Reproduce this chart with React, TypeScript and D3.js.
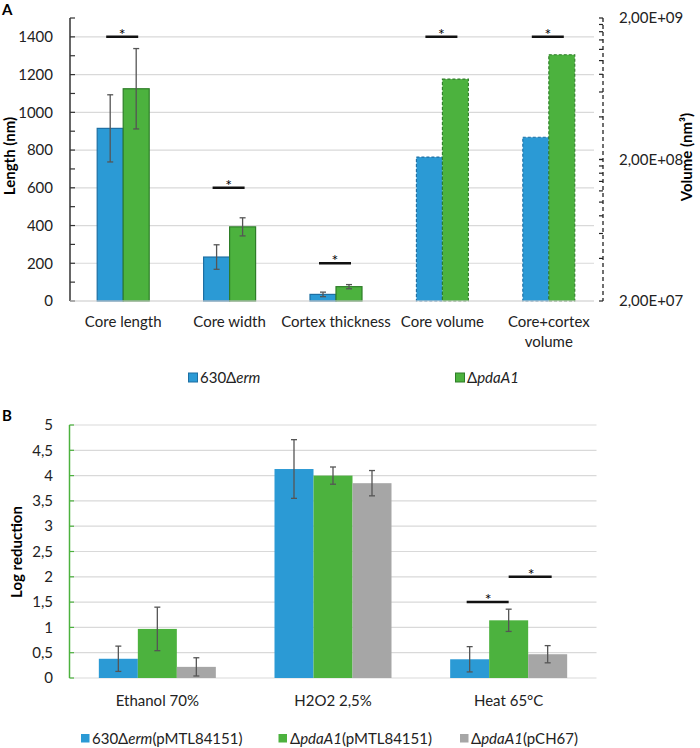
import React from "react";
import * as d3 from "d3";

// ---------- Panel A data ----------
const categoriesA = ["Core length", "Core width", "Cortex thickness", "Core volume", "Core+cortex volume"];
const labelLinesA = [["Core length"], ["Core width"], ["Cortex thickness"], ["Core volume"], ["Core+cortex", "volume"]];
const lengthBlue = [915, 233, 35];
const lengthBlueErr = [178, 65, 12];
const lengthGreen = [1125, 393, 76];
const lengthGreenErr = [213, 48, 11];
const volumeBlue = [2.08e8, 2.87e8];
const volumeGreen = [7.4e8, 1.1e9];
const sigA = [1400, 600, 200, 1400, 1400];
const lengthTicks = [0, 200, 400, 600, 800, 1000, 1200, 1400];
const volumeTicks = [2e7, 2e8, 2e9];
const volumeTickLabels = ["2,00E+07", "2,00E+08", "2,00E+09"];

// ---------- Panel B data ----------
const categoriesB = ["Ethanol 70%", "H2O2 2,5%", "Heat 65°C"];
const logBlue = [0.38, 4.13, 0.37];
const logBlueErr = [0.25, 0.58, 0.25];
const logGreen = [0.97, 4.0, 1.14];
const logGreenErr = [0.43, 0.17, 0.22];
const logGray = [0.22, 3.85, 0.47];
const logGrayErr = [0.18, 0.25, 0.17];
const logTicks = [0, 0.5, 1, 1.5, 2, 2.5, 3, 3.5, 4, 4.5, 5];

const BLUE = "#2b9ad5";
const BLUE_S = "#1d6fa3";
const GREEN = "#4cb23e";
const GREEN_S = "#2e7d28";
const GRAY = "#a6a6a6";
const GRID = "#d9d9d9";
const ERR = "#555555";
const FONT = "Lato, 'Open Sans', sans-serif";
const FS = 15;

function ErrBar({ x, y1, y2, cap = 3 }: { x: number; y1: number; y2: number; cap?: number }) {
  return (
    <g stroke={ERR} strokeWidth={1.3}>
      <line x1={x} x2={x} y1={y1} y2={y2} />
      <line x1={x - cap} x2={x + cap} y1={y1} y2={y1} />
      <line x1={x - cap} x2={x + cap} y1={y2} y2={y2} />
    </g>
  );
}

function fmt(v: number) {
  return String(v).replace(".", ",");
}

export default function App() {
  const xA = d3.scaleBand<string>().domain(categoriesA).range([70, 602]);
  const yLen = d3.scaleLinear().domain([0, 1500]).range([301, 18]);
  const yVol = d3.scaleLog().domain([2e7, 2e9]).range([301, 18]);
  const bwA = 26;
  const cA = (i: number) => (xA(categoriesA[i]) as number) + xA.bandwidth() / 2;

  const xB = d3.scaleBand<string>().domain(categoriesB).range([69.5, 596.5]);
  const yB = d3.scaleLinear().domain([0, 5]).range([678, 425]);
  const bwB = 39;
  const cB = (i: number) => (xB(categoriesB[i]) as number) + xB.bandwidth() / 2;

  const minorLen = d3.range(0, 1501, 100);
  const volTicksAll: number[] = [];
  [2e7, 2e8].forEach((b) => {
    for (let k = 1; k <= 10; k++) volTicksAll.push(b * k);
  });

  return (
    <svg width={700} height={748} style={{ position: "absolute", left: 0, top: 0, background: "#fff" }} fontFamily={FONT}>
      <rect width={700} height={748} fill="#fff" />
      {/* ===== Panel A ===== */}
      <text x={2} y={15} fontSize={15} fontWeight="bold">A</text>
      {lengthTicks.map((t) => (
        <line key={"g" + t} x1={70} x2={594} y1={yLen(t)} y2={yLen(t)} stroke={GRID} strokeWidth={1.2} />
      ))}
      {lengthTicks.map((t) => (
        <text key={"l" + t} x={53} y={yLen(t)} dy="0.35em" textAnchor="end" fontSize={FS} fill="#222">{t}</text>
      ))}
      <line x1={70} x2={70} y1={18} y2={301} stroke="#333" strokeWidth={1.5} />
      {minorLen.map((t) => (
        <line key={"m" + t} x1={70} x2={75} y1={yLen(t)} y2={yLen(t)} stroke="#333" strokeWidth={1.2} />
      ))}
      {/* right log axis */}
      <line x1={603} x2={603} y1={18} y2={301} stroke="#222" strokeWidth={1.3} strokeDasharray="4,3" />
      {volTicksAll.map((t, i) => (
        <line key={"v" + i} x1={599} x2={603} y1={yVol(t)} y2={yVol(t)} stroke="#222" strokeWidth={1.2} />
      ))}
      {volumeTicks.map((t, i) => (
        <text key={"vt" + i} x={619} y={yVol(t)} dy="0.35em" fontSize={FS} fill="#222">{volumeTickLabels[i]}</text>
      ))}
      <text transform="translate(15,156) rotate(-90)" textAnchor="middle" fontSize={15} fontWeight="bold">Length (nm)</text>
      <text transform="translate(692,157) rotate(-90)" textAnchor="middle" fontSize={15} fontWeight="bold">Volume (nm³)</text>

      {/* length bars */}
      {lengthBlue.map((v, i) => (
        <g key={"lb" + i}>
          <rect x={cA(i) - bwA} y={yLen(v)} width={bwA} height={yLen(0) - yLen(v)} fill={BLUE} stroke={BLUE_S} strokeWidth={1.2} />
          <rect x={cA(i)} y={yLen(lengthGreen[i])} width={bwA} height={yLen(0) - yLen(lengthGreen[i])} fill={GREEN} stroke={GREEN_S} strokeWidth={1.2} />
          <ErrBar x={cA(i) - bwA / 2} y1={yLen(v + lengthBlueErr[i])} y2={yLen(v - lengthBlueErr[i])} />
          <ErrBar x={cA(i) + bwA / 2} y1={yLen(lengthGreen[i] + lengthGreenErr[i])} y2={yLen(lengthGreen[i] - lengthGreenErr[i])} />
        </g>
      ))}
      {/* volume bars */}
      {volumeBlue.map((v, j) => {
        const i = j + 3;
        return (
          <g key={"vb" + j}>
            <rect x={cA(i) - bwA} y={yVol(v)} width={bwA} height={yVol(2e7) - yVol(v)} fill={BLUE} stroke={BLUE_S} strokeWidth={1.1} strokeDasharray="3,2" />
            <rect x={cA(i)} y={yVol(volumeGreen[j])} width={bwA} height={yVol(2e7) - yVol(volumeGreen[j])} fill={GREEN} stroke={GREEN_S} strokeWidth={1.1} strokeDasharray="3,2" />
          </g>
        );
      })}
      <line x1={70} x2={594} y1={301} y2={301} stroke={GRID} strokeWidth={1.2} />
      {/* significance A */}
      {sigA.map((s, i) => (
        <g key={"s" + i}>
          <line x1={cA(i) - 17} x2={cA(i) + 15} y1={yLen(s)} y2={yLen(s)} stroke="#111" strokeWidth={2.5} />
          <text x={cA(i) - 1} y={yLen(s) + 3} textAnchor="middle" fontSize={16}>*</text>
        </g>
      ))}
      {labelLinesA.map((lines, i) =>
        lines.map((l, k) => (
          <text key={"xa" + i + k} x={cA(i)} y={322 + k * 20} dy="0.35em" textAnchor="middle" fontSize={FS} fill="#222">{l}</text>
        ))
      )}
      {/* legend A */}
      <rect x={188.5} y={373} width={9} height={9} fill={BLUE} stroke={BLUE_S} />
      <text x={200} y={378} dy="0.35em" fontSize={FS} fill="#222">630Δ<tspan fontStyle="italic">erm</tspan></text>
      <rect x={455.5} y={373} width={9} height={9} fill={GREEN} stroke={GREEN_S} />
      <text x={467} y={378} dy="0.35em" fontSize={FS} fill="#222">Δ<tspan fontStyle="italic">pdaA1</tspan></text>

      {/* ===== Panel B ===== */}
      <text x={2} y={421} fontSize={15} fontWeight="bold">B</text>
      {logTicks.map((t) => (
        <line key={"gb" + t} x1={69.5} x2={596.5} y1={yB(t)} y2={yB(t)} stroke={GRID} strokeWidth={1.2} />
      ))}
      {logTicks.map((t) => (
        <text key={"lb" + t} x={53} y={yB(t)} dy="0.35em" textAnchor="end" fontSize={FS} fill="#222">{fmt(t)}</text>
      ))}
      <line x1={69.5} x2={69.5} y1={425} y2={678} stroke={GREEN} strokeWidth={1.5} />
      {logTicks.map((t) => (
        <line key={"tb" + t} x1={69.5} x2={74} y1={yB(t)} y2={yB(t)} stroke={GREEN} strokeWidth={1.2} />
      ))}
      <text transform="translate(22,552) rotate(-90)" textAnchor="middle" fontSize={15} fontWeight="bold">Log reduction</text>
      {categoriesB.map((c, i) => {
        const c0 = cB(i);
        const xs = [c0 - bwB * 1.5, c0 - bwB / 2, c0 + bwB / 2];
        const vals = [logBlue[i], logGreen[i], logGray[i]];
        const errs = [logBlueErr[i], logGreenErr[i], logGrayErr[i]];
        const cols = [BLUE, GREEN, GRAY];
        return (
          <g key={"gbB" + i}>
            {vals.map((v, k) => (
              <rect key={"r" + k} x={xs[k]} y={yB(v)} width={bwB} height={yB(0) - yB(v)} fill={cols[k]} />
            ))}
            {vals.map((v, k) => (
              <ErrBar key={"e" + k} x={xs[k] + bwB / 2} y1={yB(v + errs[k])} y2={yB(v - errs[k])} />
            ))}
            <text x={c0} y={701} dy="0.35em" textAnchor="middle" fontSize={FS} fill="#222">{c}</text>
          </g>
        );
      })}
      {/* significance B */}
      <line x1={cB(2) - bwB - 3} x2={cB(2)} y1={yB(1.5)} y2={yB(1.5)} stroke="#111" strokeWidth={2.5} />
      <text x={cB(2) - bwB / 2 - 1} y={yB(1.5) + 3} textAnchor="middle" fontSize={16}>*</text>
      <line x1={cB(2)} x2={cB(2) + bwB + 4} y1={yB(2)} y2={yB(2)} stroke="#111" strokeWidth={2.5} />
      <text x={cB(2) + bwB / 2 + 3} y={yB(2) + 3} textAnchor="middle" fontSize={16}>*</text>
      {/* legend B */}
      <rect x={81} y={734} width={8.5} height={8.5} fill={BLUE} />
      <text x={92} y={738.5} dy="0.35em" fontSize={FS} fill="#222">630Δ<tspan fontStyle="italic">erm</tspan>(pMTL84151)</text>
      <rect x={278.5} y={734} width={8.5} height={8.5} fill={GREEN} />
      <text x={290} y={738.5} dy="0.35em" fontSize={FS} fill="#222">Δ<tspan fontStyle="italic">pdaA1</tspan>(pMTL84151)</text>
      <rect x={460} y={734} width={8.5} height={8.5} fill={GRAY} />
      <text x={471} y={738.5} dy="0.35em" fontSize={FS} fill="#222">Δ<tspan fontStyle="italic">pdaA1</tspan>(pCH67)</text>
    </svg>
  );
}
